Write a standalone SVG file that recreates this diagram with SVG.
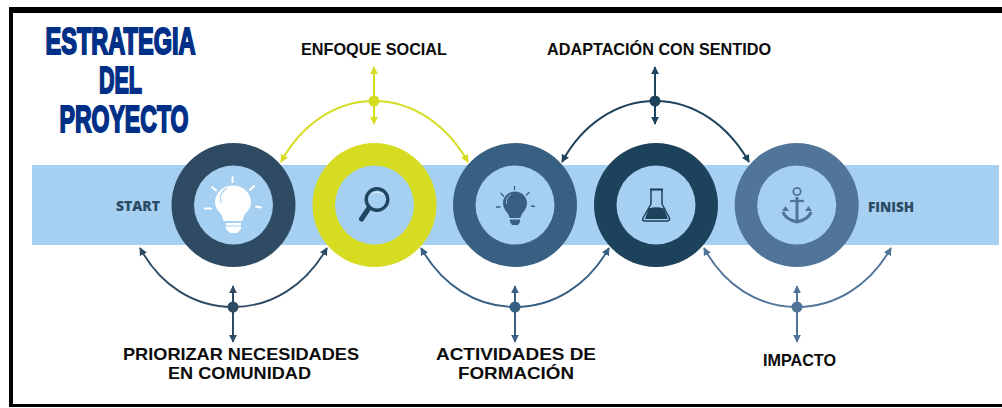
<svg xmlns="http://www.w3.org/2000/svg" width="1002" height="408" viewBox="0 0 1002 408">
<style>
.lbl{font-family:"Liberation Sans",Arial,sans-serif;font-weight:700;font-size:16.5px;fill:#0c0c0c}
.se{font-family:"Open Sans","Noto Sans",sans-serif;font-weight:800;font-size:14px;fill:#2b4a63}
.ttl{font-family:"Liberation Sans Narrow","Liberation Sans",sans-serif;font-weight:700;font-size:36px;fill:#002f87;stroke:#002f87;stroke-width:2px;text-anchor:middle}
.inner{fill:#a5d0f1}
.c{fill:none;stroke-width:1.900}
.v{fill:none;stroke-width:2}
</style>
<defs>
<marker id="a1" viewBox="0 0 10 10" refX="9" refY="5" markerWidth="8" markerHeight="8" markerUnits="userSpaceOnUse" orient="auto-start-reverse"><path d="M0 0L10 5L0 10Z" fill="#2f4b63"/></marker>
<marker id="a2" viewBox="0 0 10 10" refX="9" refY="5" markerWidth="8" markerHeight="8" markerUnits="userSpaceOnUse" orient="auto-start-reverse"><path d="M0 0L10 5L0 10Z" fill="#d6dc22"/></marker>
<marker id="a3" viewBox="0 0 10 10" refX="9" refY="5" markerWidth="8" markerHeight="8" markerUnits="userSpaceOnUse" orient="auto-start-reverse"><path d="M0 0L10 5L0 10Z" fill="#386082"/></marker>
<marker id="a4" viewBox="0 0 10 10" refX="9" refY="5" markerWidth="8" markerHeight="8" markerUnits="userSpaceOnUse" orient="auto-start-reverse"><path d="M0 0L10 5L0 10Z" fill="#1d425b"/></marker>
<marker id="a5" viewBox="0 0 10 10" refX="9" refY="5" markerWidth="8" markerHeight="8" markerUnits="userSpaceOnUse" orient="auto-start-reverse"><path d="M0 0L10 5L0 10Z" fill="#517599"/></marker>
</defs>
<rect width="1002" height="408" fill="#fff"/>
<rect x="9" y="7" width="993" height="6" fill="#000"/>
<rect x="9" y="7" width="4" height="400" fill="#000"/>
<rect x="9" y="404" width="993" height="3" fill="#000"/>
<rect id="band" x="32" y="165" width="967" height="80" fill="#a5d0f1"/>

<g id="title">
<text class="ttl" x="120.500" y="53.500" textLength="150" lengthAdjust="spacingAndGlyphs">ESTRATEGIA</text>
<text class="ttl" x="120.500" y="92.500" textLength="43" lengthAdjust="spacingAndGlyphs">DEL</text>
<text class="ttl" x="124" y="132" textLength="129" lengthAdjust="spacingAndGlyphs">PROYECTO</text>
</g>

<g id="connectors">
<path class="c" stroke="#d6dc22" marker-end="url(#a2)" d="M374 101C335 101 301 125 281 162"/>
<path class="c" stroke="#d6dc22" marker-end="url(#a2)" d="M374 101C413 101 447 125 468 162"/>
<path class="v" stroke="#d6dc22" marker-start="url(#a2)" marker-end="url(#a2)" d="M374 67V124"/>
<circle cx="374" cy="101" r="5.500" fill="#d6dc22"/>

<path class="c" stroke="#1d425b" marker-end="url(#a4)" d="M655 101C616 101 582 125 562 162"/>
<path class="c" stroke="#1d425b" marker-end="url(#a4)" d="M655 101C694 101 728 125 749 162"/>
<path class="v" stroke="#1d425b" marker-start="url(#a4)" marker-end="url(#a4)" d="M655 67V124"/>
<circle cx="655" cy="101" r="5.500" fill="#1d425b"/>

<path class="c" stroke="#2f4b63" marker-end="url(#a1)" d="M233 307C194 307 160 285 140 248"/>
<path class="c" stroke="#2f4b63" marker-end="url(#a1)" d="M233 307C272 307 306 285 327 248"/>
<path class="v" stroke="#2f4b63" marker-start="url(#a1)" marker-end="url(#a1)" d="M233 286V342"/>
<circle cx="233" cy="307" r="5.500" fill="#2f4b63"/>

<path class="c" stroke="#386082" marker-end="url(#a3)" d="M515 307C476 307 442 285 421 248"/>
<path class="c" stroke="#386082" marker-end="url(#a3)" d="M515 307C554 307 588 285 609 248"/>
<path class="v" stroke="#386082" marker-start="url(#a3)" marker-end="url(#a3)" d="M515 286V342"/>
<circle cx="515" cy="307" r="5.500" fill="#386082"/>

<path class="c" stroke="#517599" marker-end="url(#a5)" d="M797 307C758 307 724 285 704 248"/>
<path class="c" stroke="#517599" marker-end="url(#a5)" d="M797 307C836 307 870 285 891 248"/>
<path class="v" stroke="#517599" marker-start="url(#a5)" marker-end="url(#a5)" d="M797 286V342"/>
<circle cx="797" cy="307" r="5.500" fill="#517599"/>
</g>

<g id="node-start"><text class="se" x="116" y="211" textLength="44" lengthAdjust="spacingAndGlyphs">START</text></g>
<g id="node-finish"><text class="se" x="868" y="212" textLength="46" lengthAdjust="spacingAndGlyphs">FINISH</text></g>

<g id="node-1">
<circle cx="233.500" cy="205" r="62" fill="#2f4b63"/>
<circle class="inner" cx="233.500" cy="205" r="39.500"/>
<path d="M233 185.500C223 185.500 215 193 215 202C215 209 220 212 222 216C223 219 223 220 224 221H242C243 220 243 219 244 216C246 212 251 209 251 202C251 193 243 185.500 233 185.500Z" fill="#fff"/>
<path d="M221 203C219 196 222 191 227 188" fill="none" stroke="#a5d0f1" stroke-width="1.200"/>
<path d="M226 223H241V229L237 233H230L226 229Z" fill="#fff"/>
<path d="M226 226H241" stroke="#a5d0f1" stroke-width="1"/>
<path d="M232.500 177V182M212 187L216 190.500M254 186L250 190M205 208.500H211M256 206.500L261 207.500" stroke="#fff" stroke-width="2" stroke-linecap="round" fill="none"/>
</g>

<g id="node-2">
<circle cx="374.500" cy="205" r="62" fill="#d6dc22"/>
<circle class="inner" cx="374.500" cy="205" r="39.500"/>
<circle cx="377" cy="199.500" r="10.800" fill="none" stroke="#1f4560" stroke-width="3.400"/>
<path d="M369 208L361.500 219" stroke="#1f4560" stroke-width="5" stroke-linecap="round" fill="none"/>
<path d="M371 194Q377 190.500 383 194" fill="none" stroke="#fff" stroke-width="1" opacity=".6"/>
</g>

<g id="node-3">
<circle cx="515" cy="205" r="62" fill="#386082"/>
<circle class="inner" cx="515" cy="205" r="39.500"/>
<path d="M515 191.500C508 191.500 503 197 503 203C503 208 506 211 508 214C509 216 509 217 510 218H520C521 217 521 216 522 214C524 211 527 208 527 203C527 197 522 191.500 515 191.500Z" fill="#386082"/>
<path d="M506.500 204C506 199 508 196 511 194" fill="none" stroke="#a5d0f1" stroke-width=".8"/>
<path d="M510 219.500H520V222L518 225H512L510 222Z" fill="#386082"/>
<path d="M514.500 186V190M500.500 193L504 196.500M529.500 192L526 195.500M496 207H500.500M531 206L535 206.500" stroke="#386082" stroke-width="1.300" fill="none"/>
</g>

<g id="node-4">
<circle cx="656" cy="205" r="62" fill="#1d425b"/>
<circle class="inner" cx="656" cy="205" r="39.500"/>
<path d="M651 189.500H662V204L669.500 218C670 220 669 221 667 221H645C643 221 642 220 643 218L651 204Z" fill="none" stroke="#1d425b" stroke-width="1.500" stroke-linejoin="round"/>
<path d="M650 189.500H663" stroke="#1d425b" stroke-width="1.800"/>
<path d="M648.500 208.500Q656 206 664 208.500L668 219H645Z" fill="#1d425b"/>
</g>

<g id="node-5">
<circle cx="796.700" cy="205" r="62" fill="#517599"/>
<circle class="inner" cx="796.700" cy="205" r="39.500"/>
<circle cx="797" cy="191.500" r="3.700" fill="none" stroke="#517599" stroke-width="1.800"/>
<path d="M790 201H804" stroke="#517599" stroke-width="2.200"/>
<path d="M797 197V221" stroke="#517599" stroke-width="3"/>
<path d="M783 212Q785 219 797 222Q809 219 811 212" fill="none" stroke="#517599" stroke-width="3"/>
<path d="M782 211L785.500 206L789 211ZM805 211L808.500 206L812 211Z" fill="#517599"/>
</g>

<g id="labels">
<text class="lbl" x="301" y="54.500" textLength="146" lengthAdjust="spacingAndGlyphs">ENFOQUE SOCIAL</text>
<text class="lbl" x="547" y="54.500" textLength="224" lengthAdjust="spacingAndGlyphs">ADAPTACIÓN CON SENTIDO</text>
<text class="lbl" x="123" y="360" textLength="236" lengthAdjust="spacingAndGlyphs">PRIORIZAR NECESIDADES</text>
<text class="lbl" x="168" y="379" textLength="143" lengthAdjust="spacingAndGlyphs">EN COMUNIDAD</text>
<text class="lbl" x="436" y="360" textLength="160" lengthAdjust="spacingAndGlyphs">ACTIVIDADES DE</text>
<text class="lbl" x="458" y="379" textLength="116" lengthAdjust="spacingAndGlyphs">FORMACIÓN</text>
<text class="lbl" x="763" y="366" textLength="73" lengthAdjust="spacingAndGlyphs">IMPACTO</text>
</g>
</svg>
